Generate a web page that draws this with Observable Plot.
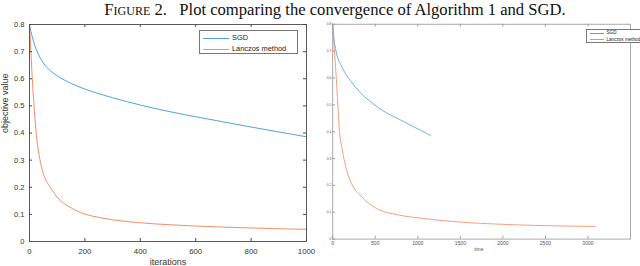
<!DOCTYPE html>
<html><head><meta charset="utf-8">
<script src="https://cdn.jsdelivr.net/npm/d3@7"></script>
<script src="https://cdn.jsdelivr.net/npm/@observablehq/plot@0.6"></script>
<style>
html,body{margin:0;padding:0;background:#fff;overflow:hidden;width:640px;height:266px;}
#wrap{position:relative;width:640px;height:266px;overflow:hidden;background:#fff;}
#title{position:absolute;left:15px;top:0;width:640px;text-align:center;font-family:"Liberation Serif","DejaVu Serif",serif;font-size:16.6px;line-height:19px;color:#111;white-space:nowrap;}
.sc{font-variant:small-caps;}
#a{position:absolute;left:0;top:20px;}
#b{position:absolute;left:320px;top:20px;}
.legend{position:absolute;background:#fff;border-style:solid;border-color:#777;box-sizing:border-box;font-family:"Liberation Sans",Arial,sans-serif;color:#222;}
.legend .row{position:absolute;white-space:nowrap;}
.legend .sw{position:absolute;}
</style></head><body>
<div id="wrap">
<div id="title"><span class="sc">Figure 2.</span>&nbsp;&nbsp; Plot comparing the convergence of Algorithm 1 and SGD.</div>
<div id="a"></div><div id="b"></div>
</div>
<script>
// ---- data ----
const seriesNames = ["SGD", "Lanczos method"];
const seriesColors = ["#4fa3de", "#ef8e68"];

// left panel: objective value vs iterations
const sgdIter = [0, 5, 10, 20, 30, 50, 75, 100, 150, 200, 250, 300, 400, 500, 600, 700, 800, 900, 1000];
const sgdValue = [0.80, 0.775, 0.755, 0.72, 0.695, 0.658, 0.630, 0.611, 0.583, 0.562, 0.545, 0.530, 0.503, 0.480, 0.460, 0.441, 0.422, 0.404, 0.386];
const lanIter = [0, 5, 10, 15, 20, 25, 30, 40, 50, 60, 75, 100, 125, 150, 200, 250, 300, 400, 500, 600, 700, 800, 900, 1000];
const lanValue = [0.80, 0.70, 0.60, 0.52, 0.45, 0.39, 0.35, 0.29, 0.25, 0.225, 0.20, 0.163, 0.140, 0.124, 0.101, 0.089, 0.080, 0.069, 0.062, 0.057, 0.053, 0.050, 0.047, 0.045];

// right panel: objective value vs time
const sgdTime = [0, 10, 37, 111, 221, 332, 480, 590, 774, 959, 1150];
const sgdTimeValue = [0.80, 0.76, 0.704, 0.640, 0.585, 0.543, 0.503, 0.478, 0.447, 0.417, 0.386];
const lanTime = [0, 20, 40, 60, 80, 111, 166, 221, 332, 498, 774, 1033, 1512, 1991, 2508, 3083];
const lanTimeValue = [0.79, 0.70, 0.61, 0.50, 0.40, 0.335, 0.254, 0.207, 0.160, 0.117, 0.090, 0.078, 0.063, 0.055, 0.050, 0.047];

const xTicksA = [0, 200, 400, 600, 800, 1000];
const yTicks = [0, 0.1, 0.2, 0.3, 0.4, 0.5, 0.6, 0.7, 0.8];
const xTicksB = [0, 500, 1000, 1500, 2000, 2500, 3000];

const toRows = (xs, ys) => xs.map((x, i) => ({x, y: ys[i]}));
const fmtY = d => d === 0 ? "0" : d.toFixed(1);
const fmtX = d => String(d);
const font = "'Liberation Sans', Arial, sans-serif";

// ---- left chart ----
{
  const W = 320, H = 246, mt = 4, ml = 29, mr = 14, mb = 25;
  const fw = W - ml - mr, fh = H - mt - mb;
  const axisCol = "#4a4a4a";
  const chart = Plot.plot({
    width: W, height: H, marginTop: mt, marginLeft: ml, marginRight: mr, marginBottom: mb,
    style: {background: "transparent", fontFamily: font, color: "#333"},
    x: {domain: [0, 1000], axis: null},
    y: {domain: [0, 0.8], axis: null},
    marks: [
      Plot.line(toRows(sgdIter, sgdValue), {x: "x", y: "y", stroke: seriesColors[0], strokeWidth: 1, curve: "monotone-x"}),
      Plot.line(toRows(lanIter, lanValue), {x: "x", y: "y", stroke: seriesColors[1], strokeWidth: 1, curve: "monotone-x"}),
      Plot.frame({stroke: axisCol, strokeWidth: 0.9}),
      Plot.tickX(xTicksA, {x: d => d, insetTop: fh - 3, stroke: axisCol}),
      Plot.tickX(xTicksA, {x: d => d, insetBottom: fh - 3, stroke: axisCol}),
      Plot.tickY(yTicks, {y: d => d, insetRight: fw - 3, stroke: axisCol}),
      Plot.tickY(yTicks, {y: d => d, insetLeft: fw - 3, stroke: axisCol}),
      Plot.axisX({ticks: xTicksA, tickSize: 0, tickPadding: 6.5, tickFormat: fmtX, fontSize: 7.8, label: null}),
      Plot.axisY({ticks: yTicks, tickSize: 0, tickPadding: 5, tickFormat: fmtY, fontSize: 7.5, label: null}),
      Plot.text(["iterations"], {frameAnchor: "bottom", dy: 20.3, text: d => d, fontSize: 9, lineAnchor: "middle", fill: "#333"}),
      Plot.text(["objective value"], {frameAnchor: "left", dx: -24.5, text: d => d, fontSize: 9, rotate: -90, lineAnchor: "middle", fill: "#333"})
    ]
  });
  document.getElementById("a").append(chart);
}

// ---- right chart ----
{
  const W = 340, H = 246, mt = 4, ml = 13, mb = 13.7;
  const fw = 3500 / 500 * 45.2, mr = W - ml - fw;
  const fh = H - mt - mb;
  const axisCol = "#9a9a9a";
  const chart = Plot.plot({
    width: W, height: H, marginTop: mt, marginLeft: ml, marginRight: mr, marginBottom: mb,
    style: {background: "transparent", fontFamily: font, color: "#555"},
    x: {domain: [0, 3500], axis: null},
    y: {domain: [0, 0.8], axis: null},
    marks: [
      Plot.line(toRows(sgdTime, sgdTimeValue), {x: "x", y: "y", stroke: seriesColors[0], strokeWidth: 0.9, curve: "monotone-x"}),
      Plot.line(toRows(lanTime, lanTimeValue), {x: "x", y: "y", stroke: seriesColors[1], strokeWidth: 0.9, curve: "monotone-x"}),
      Plot.frame({stroke: axisCol, strokeWidth: 0.9}),
      Plot.tickX(xTicksB, {x: d => d, insetTop: fh - 3, stroke: axisCol}),
      Plot.tickX(xTicksB, {x: d => d, insetBottom: fh - 3, stroke: axisCol}),
      Plot.tickY(yTicks, {y: d => d, insetRight: fw - 3, stroke: axisCol}),
      Plot.axisX({ticks: xTicksB, tickSize: 0, tickPadding: 2, tickFormat: fmtX, fontSize: 5.4, label: null}),
      Plot.axisY({ticks: yTicks, tickSize: 0, tickPadding: 1.5, tickFormat: fmtY, fontSize: 3.5, label: null}),
      Plot.text(["time"], {frameAnchor: "bottom", dy: 11.5, dx: -3, text: d => d, fontSize: 5.2, lineAnchor: "middle", fill: "#555"})
    ]
  });
  document.getElementById("b").append(chart);
}

// ---- legends ----
function legend(opts) {
  const box = document.createElement("div");
  box.className = "legend";
  Object.assign(box.style, {left: opts.left + "px", top: opts.top + "px", width: opts.w + "px", height: opts.h + "px", borderWidth: opts.bw + "px", fontSize: opts.fs + "px"});
  seriesNames.forEach((name, i) => {
    const sw = document.createElement("div");
    sw.className = "sw";
    Object.assign(sw.style, {left: opts.swx + "px", top: (opts.rows[i] - 0.5) + "px", width: opts.sww + "px", height: "1px", background: seriesColors[i]});
    const t = document.createElement("div");
    t.className = "row";
    t.textContent = name;
    Object.assign(t.style, {left: opts.tx + "px", top: (opts.rows[i] - opts.fs * 0.6) + "px", lineHeight: (opts.fs * 1.2) + "px"});
    box.append(sw, t);
  });
  document.getElementById("wrap").append(box);
}
legend({left: 199, top: 30, w: 99, h: 23.5, bw: 0.8, fs: 7.4, swx: 3, sww: 26, tx: 32, rows: [7, 18]});
legend({left: 586, top: 29, w: 70, h: 13.5, bw: 0.6, fs: 4.6, swx: 2.5, sww: 14, tx: 19.5, rows: [3, 9.7]});
</script>
</body></html>
